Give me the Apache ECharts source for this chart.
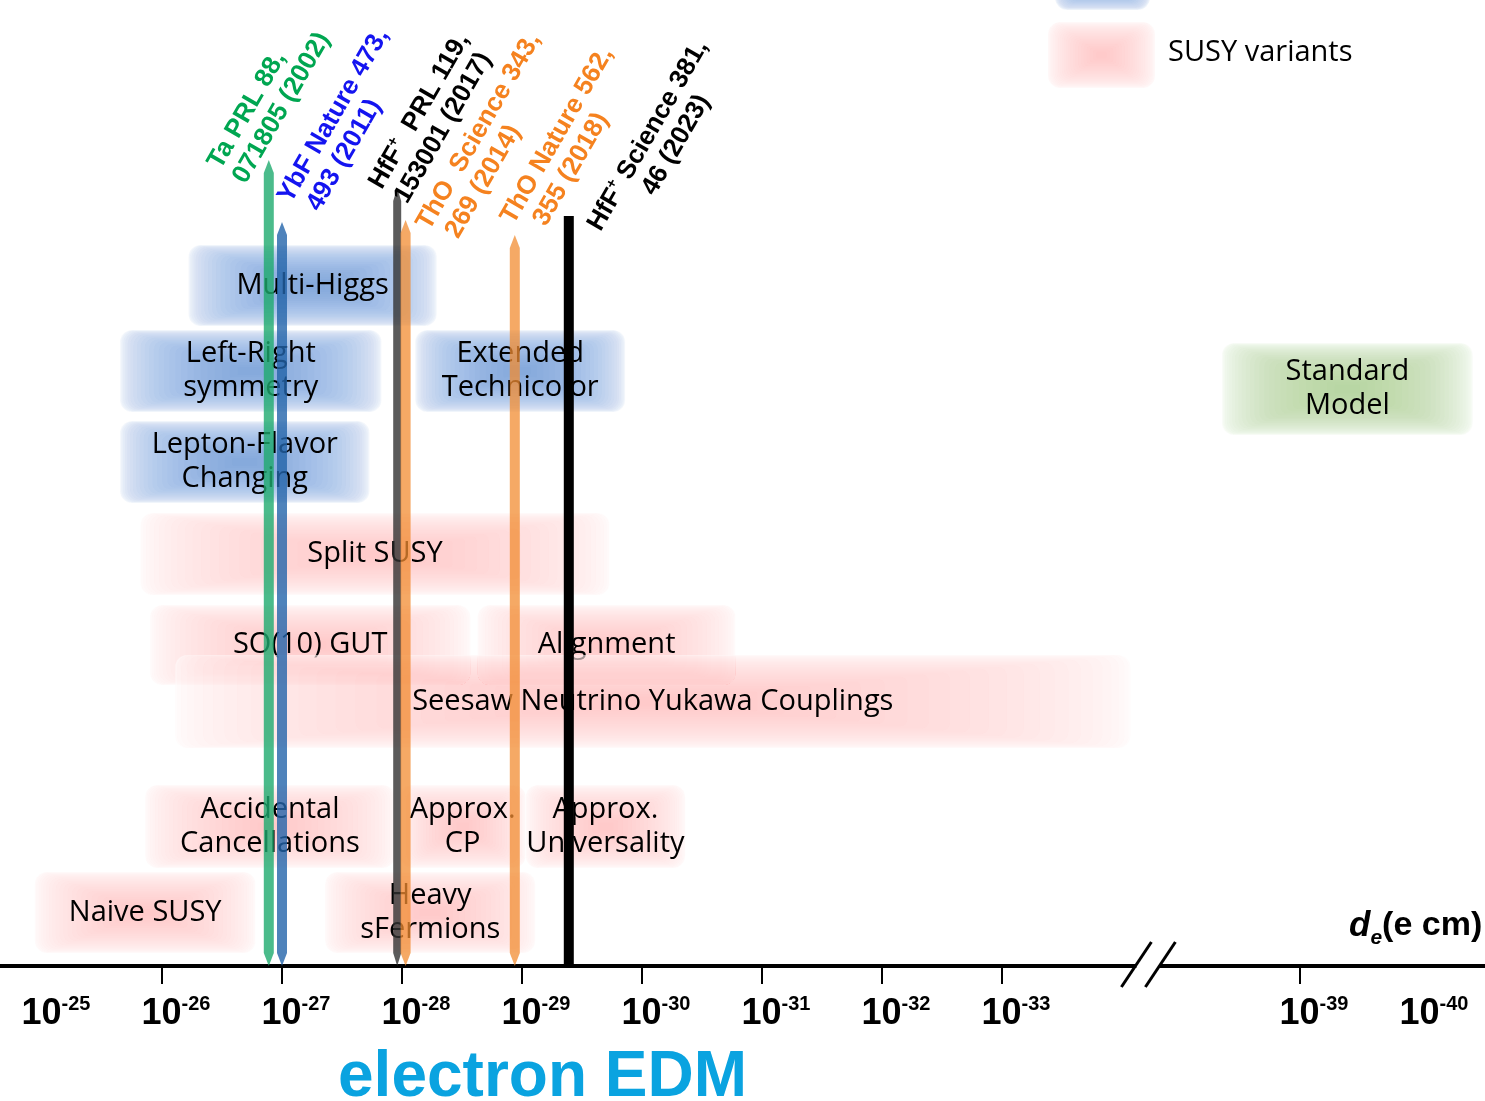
<!DOCTYPE html>
<html>
<head>
<meta charset="utf-8">
<script src="https://cdn.jsdelivr.net/npm/echarts@6/dist/echarts.min.js"></script>
<style>
  html, body { margin: 0; padding: 0; background: #fff; }
  #chart { width: 1485px; height: 1101px; }
</style>
</head>
<body>
<div id="chart"></div>
<script>
// exponents n of |d_e| = 10^-n (e cm)
const TICK_EXP = [26, 27, 28, 29, 30, 31, 32, 33, 39];
const LABEL_EXP = [25, 26, 27, 28, 29, 30, 31, 32, 33, 39, 40];

// theory ranges (from / to exponent, low / high level of the band)
const MODEL_NAMES = [
  'Multi-Higgs', 'Left-Right\nsymmetry', 'Extended\nTechnicolor', 'Lepton-Flavor\nChanging',
  'Split SUSY', 'SO(10) GUT', 'Alignment', 'Seesaw Neutrino Yukawa Couplings',
  'Accidental\nCancellations', 'Approx.\nCP', 'Approx.\nUniversality',
  'Naive SUSY', 'Heavy\nsFermions', 'Standard\nModel'
];
const MODEL_KIND = ['other', 'other', 'other', 'other', 'susy', 'susy', 'susy', 'susy',
  'susy', 'susy', 'susy', 'susy', 'susy', 'sm'];
const MODEL_FROM = [26.22, 25.65, 28.11, 25.65, 25.82, 25.90, 28.63, 26.11, 25.86, 27.98, 29.03, 24.94, 27.36, 38.35];
const MODEL_TO = [28.29, 27.83, 29.86, 27.73, 29.73, 28.57, 30.78, 34.07, 27.94, 29.03, 30.36, 26.78, 29.11, 40.44];
const MODEL_LOW = [64.0, 55.4, 55.4, 46.3, 37.1, 28.1, 28.1, 21.8, 9.8, 9.8, 9.8, 1.3, 1.3, 53.1];
const MODEL_HIGH = [72.1, 63.6, 63.6, 54.5, 45.3, 36.1, 36.1, 31.1, 18.1, 18.1, 18.1, 9.4, 9.4, 62.3];

// experimental limits
const LIMIT_EXP = [26.89, 27.0, 27.96, 28.03, 28.94, 29.39];
const LIMIT_TOP = [80.6, 74.4, 77.8, 74.6, 73.1, 75.0];
const LIMIT_LABELS = [
  '{t|Ta PRL 88,}\n{t|071805 (2002)}',
  '{t|YbF Nature 473,}\n{t| 493 (2011)}',
  '{t|HfF}{s|+}{t|  PRL 119,}\n{t|153001 (2017)}',
  '{t|ThO  Science 343,}\n{t| 269 (2014)}',
  '{t|ThO Nature 562,}\n{t|  355 (2018)}',
  '{t|HfF}{s|+}{t| Science 381,}\n{t|        46 (2023)}'
];

// axis break: values beyond it are shifted left
const BREAK_POS = 34.22;
const BREAK_SKIP = 3.517;
function toPos(e) { return e < 36 ? e : e - BREAK_SKIP; }
function toExp(p) { return p > BREAK_POS ? Math.round(p + BREAK_SKIP) : Math.round(p); }

const KIND_STYLE = {
  other: { rgb: '60,110,195', total: 0.6 },
  susy: { rgb: '240,110,110', total: 0.4 },
  sm: { rgb: '120,180,80', total: 0.5 }
};
const LIMIT_STYLE = [
  { fill: 'rgba(30,170,110,0.8)', text: '#00a651', w: 10, head: true, off: [-42, 14] },
  { fill: 'rgba(35,100,170,0.8)', text: '#1414f0', w: 10, head: true, off: [15, -14] },
  { fill: 'rgba(50,50,50,0.8)', text: '#000', w: 8, head: true, off: [-9, 6] },
  { fill: 'rgba(242,140,50,0.75)', text: '#f5821f', w: 10, head: true, off: [30, 15] },
  { fill: 'rgba(242,140,50,0.75)', text: '#f5821f', w: 10, head: true, off: [5, -6] },
  { fill: '#000', text: '#000', w: 10, head: false, off: [38, 20] }
];

const HAND_FONT = 'Open Sans';
const HAND_SIZE = 29;

// soft box: stacked translucent rounded rects shrinking towards the centre
function layered(x, y, w, h, rgb, total) {
  const n = 26;
  const a = 1 - Math.pow(1 - total, 1 / n);
  const kids = [{
    type: 'rect', shape: { x: x, y: y, width: w, height: h, r: 12 },
    style: { fill: 'rgba(255,255,255,0.6)' }
  }];
  for (let i = 0; i < n; i++) {
    const t = 0.9 * Math.pow(i / (n - 1), 1.7);
    const dx = t * w / 2, dy = t * h / 2;
    kids.push({
      type: 'rect',
      shape: { x: x + dx, y: y + dy, width: w - 2 * dx, height: h - 2 * dy, r: 12 * (1 - t) },
      style: { fill: 'rgba(' + rgb + ',' + a.toFixed(4) + ')' }
    });
  }
  return kids;
}

const myChart = echarts.init(document.getElementById('chart'));

const modelData = MODEL_NAMES.map((n, i) => [toPos(MODEL_FROM[i]), toPos(MODEL_TO[i]), MODEL_LOW[i], MODEL_HIGH[i]]);
const limitData = LIMIT_EXP.map((e, i) => [toPos(e), LIMIT_TOP[i]]);

myChart.setOption({
  animation: false,
  grid: { left: 0, right: 0, top: 0, bottom: 135 },
  xAxis: {
    type: 'value',
    min: 25 - 42 / 120,
    max: 25 + (1485 - 42) / 120,
    splitLine: { show: false },
    axisLine: { show: true, lineStyle: { color: '#000', width: 4 } },
    axisTick: {
      show: true, length: 18,
      lineStyle: { color: '#000', width: 2 },
      customValues: TICK_EXP.map(toPos)
    },
    axisLabel: {
      margin: 28,
      customValues: LABEL_EXP.map(toPos),
      formatter: function (v) {
        return '{pad| }{b|10}{s|-' + toExp(v) + '}';
      },
      rich: {
        pad: { width: 28, fontSize: 10 },
        b: { fontSize: 36, fontWeight: 'bold', fontFamily: 'Liberation Sans', color: '#000', lineHeight: 40 },
        s: { fontSize: 20, fontWeight: 'bold', fontFamily: 'Liberation Sans', color: '#000', verticalAlign: 'top', lineHeight: 20 }
      }
    }
  },
  yAxis: { type: 'value', min: 0, max: 96.6, show: false },
  graphic: [
    // legend swatches
    { type: 'group', children: layered(1055, -56, 95, 66, KIND_STYLE.other.rgb, KIND_STYLE.other.total) },
    { type: 'group', children: layered(1048, 22, 107, 66, KIND_STYLE.susy.rgb, KIND_STYLE.susy.total) },
    {
      type: 'text', x: 1168, y: 53,
      style: { text: 'SUSY variants', fontSize: HAND_SIZE, fontFamily: HAND_FONT, fill: '#000', verticalAlign: 'middle' }
    },
    {
      type: 'text', x: 338, y: 1046,
      style: { text: 'electron EDM', fontSize: 64, fontWeight: 'bold', fontFamily: 'Liberation Sans', fill: '#0aa3e0' }
    },
    {
      type: 'text', x: 1349, y: 926,
      style: {
        text: '{d|d}{e|e}{n|(e cm)}', verticalAlign: 'middle', fill: '#000',
        rich: {
          d: { fontSize: 35, fontWeight: 'bold', fontStyle: 'italic', fontFamily: 'Liberation Sans', lineHeight: 46 },
          e: { fontSize: 21, fontWeight: 'bold', fontStyle: 'italic', fontFamily: 'Liberation Sans', lineHeight: 20, verticalAlign: 'bottom' },
          n: { fontSize: 34, fontWeight: 'bold', fontFamily: 'Liberation Sans', lineHeight: 46 }
        }
      }
    }
  ],
  series: [
    {
      type: 'custom',
      name: 'models',
      z: 2,
      clip: false,
      data: modelData,
      renderItem: function (params, api) {
        const i = params.dataIndex;
        const p0 = api.coord([api.value(0), api.value(3)]);
        const p1 = api.coord([api.value(1), api.value(2)]);
        const x = p0[0], y = p0[1], w = p1[0] - p0[0], h = p1[1] - p0[1];
        const st = KIND_STYLE[MODEL_KIND[i]];
        const kids = layered(x, y, w, h, st.rgb, st.total);
        kids.push({
          type: 'text',
          x: x + w / 2, y: y + h / 2,
          style: {
            text: MODEL_NAMES[i], align: 'center', verticalAlign: 'middle',
            fontSize: HAND_SIZE, fontFamily: HAND_FONT, lineHeight: 34, fill: '#000'
          }
        });
        return { type: 'group', children: kids };
      }
    },
    {
      type: 'custom',
      name: 'limits',
      z: 3,
      clip: false,
      data: limitData,
      renderItem: function (params, api) {
        const i = params.dataIndex;
        const st = LIMIT_STYLE[i];
        const top = api.coord([api.value(0), api.value(1)]);
        const bot = api.coord([api.value(0), 0]);
        const cx = top[0], hw = st.w / 2, hh = 13;
        let bar;
        if (st.head) {
          bar = {
            type: 'polygon',
            shape: { points: [[cx, top[1]], [cx + hw, top[1] + hh], [cx + hw, bot[1] - hh], [cx, bot[1]], [cx - hw, bot[1] - hh], [cx - hw, top[1] + hh]] },
            style: { fill: st.fill }
          };
        } else {
          bar = {
            type: 'rect',
            shape: { x: cx - hw, y: top[1], width: st.w, height: bot[1] - top[1] },
            style: { fill: st.fill }
          };
        }
        const label = {
          type: 'text',
          x: cx + st.off[0], y: top[1] + st.off[1],
          rotation: Math.PI / 3,
          style: {
            text: LIMIT_LABELS[i], align: 'left', verticalAlign: 'middle', fill: st.text,
            rich: {
              t: { fontSize: 26, fontWeight: 'bold', fontFamily: 'Liberation Sans', lineHeight: 29, fill: st.text },
              s: { fontSize: 15, fontWeight: 'bold', fontFamily: 'Liberation Sans', lineHeight: 29, verticalAlign: 'top', fill: st.text }
            }
          }
        };
        return { type: 'group', children: [bar, label] };
      }
    },
    {
      type: 'custom',
      name: 'break',
      z: 4,
      clip: false,
      data: [[BREAK_POS, 0]],
      renderItem: function (params, api) {
        const c = api.coord([api.value(0), api.value(1)]);
        const x = c[0], y = c[1];
        return {
          type: 'group',
          children: [
            { type: 'rect', shape: { x: x - 12, y: y - 4, width: 23, height: 8 }, style: { fill: '#fff' } },
            { type: 'line', shape: { x1: x - 27, y1: y + 21, x2: x + 3, y2: y - 24 }, style: { stroke: '#000', lineWidth: 3 } },
            { type: 'line', shape: { x1: x - 3, y1: y + 21, x2: x + 27, y2: y - 24 }, style: { stroke: '#000', lineWidth: 3 } }
          ]
        };
      }
    }
  ]
});
</script>
</body>
</html>
